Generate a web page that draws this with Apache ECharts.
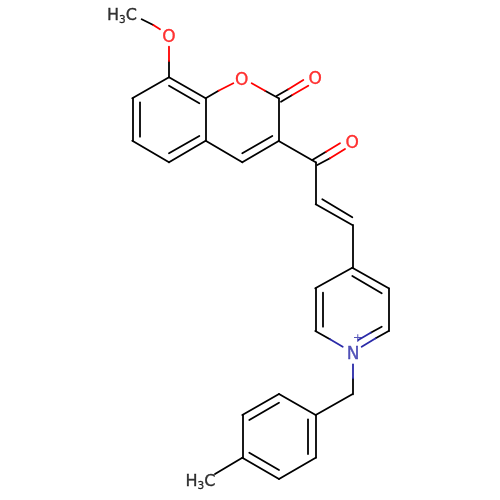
<!DOCTYPE html>
<html><head><meta charset="utf-8">
<style>html,body{margin:0;padding:0;background:#fff}#c{width:500px;height:500px}</style>
<script src="https://cdn.jsdelivr.net/npm/echarts@6/dist/echarts.min.js"></script>
</head><body><div id="c"></div>
<script>
// Bond segments: [x1, y1, x2, y2] in picture units
const blackBonds = [
  [141.7,19.3,153.3,25],[169,61,169,77.3],
  [169,77.3,205.7,98.3],[205.7,98.3,205.7,140.7],[205.7,140.7,169,162.3],[169,162.3,132.3,140.7],[132.3,140.7,132.3,98.3],[132.3,98.3,169,77.3],
  [169,85.7,199.3,103.3],[140,102.3,140,136.7],[169,153.3,199.3,136],
  [205.7,98.3,218.5,90.7],[265,90.7,278.7,98.3],[278.7,98.3,278.7,141],
  [278.7,141,242.3,162.3],[242.3,162.3,205.7,140.7],[242.3,153.3,272.3,136],
  [278.7,141,315.7,162.3],[312.3,160,326,151.7],[317.3,165,330,158.3],
  [276.5,96,288.3,89.3],[281,101.7,292.3,95],
  [315.7,162.3,315.7,204.3],[315.7,204.3,352.3,225],[322.3,199.3,352.3,217.3],[352.3,225,352.3,267.7],
  [352.3,267.7,388.7,288.3],[388.7,288.3,388.7,331],[388.7,331,375.7,338.3],[381.7,326.7,370.7,332.7],
  [352.3,267.7,315.3,288.3],[315.3,288.3,315.3,331],[315.3,331,330,339.3],
  [352.3,276,381.7,293.3],[322.7,292.7,322.7,326.7],
  [352.3,378.3,352.3,394.3],[352.3,394.3,315.7,415],
  [315.7,415,279,394],[279,394,242.3,415],[242.3,415,242.3,457.7],[242.3,457.7,279,479],[279,479,315.7,457.7],[315.7,457.7,315.7,415],
  [307.7,419.3,307.7,454],[249.3,420,279,402.7],[249.3,452.7,279,470],[242.3,457.7,215,474]
];
const redBonds = [
  [153.3,25,160,29.3],[169,46.7,169,61],
  [218.5,90.7,233.3,83.3],[251.7,83.3,265,90.7],
  [288.3,89.3,303.3,80],[292.3,95,308.3,85.7],
  [326,151.7,340,143.3],[330,158.3,345,149]
];
const blueBonds = [
  [375.7,338.3,361.7,346.7],[370.7,332.7,358.3,340],[330,339.3,342.7,346.7],[352.3,364.3,352.3,378.3]
];
// Atom labels: [x, y, text, colour key, font size]
const atomLabels = [
  [122,16,'{a|H}{s|3}{a|C}','ink',16],
  [169,37.5,'O','red',17],
  [241.7,80.2,'O','red',17],
  [315.3,79.5,'O','red',17],
  [352.3,144,'O','red',17],
  [353,354.5,'N','blue',17],
  [200.5,481.5,'{a|H}{s|3}{a|C}','ink',16]
];
const chargeLabels = [[357.7,338.5,'+']];

const colours = {ink:'#000000', red:'#ff0000', blue:'#2a2aa8'};
const toLines = a => a.map(b => ({coords:[[b[0],b[1]],[b[2],b[3]]]}));
const bondSeries = (a,c) => ({type:'lines',coordinateSystem:'cartesian2d',polyline:false,silent:true,
  data:toLines(a),lineStyle:{color:c,width:1.8,opacity:1,cap:'round',curveness:0}});
const chart = echarts.init(document.getElementById('c'),null,{renderer:'canvas'});
const textBase = (c,s) => ({fontFamily:'DejaVu Sans',fontSize:s,color:c,textBorderColor:c,textBorderWidth:0.35,textShadowBlur:0});
chart.setOption({
  animation:false,
  backgroundColor:'#fff',
  grid:{left:0,right:0,top:0,bottom:0},
  xAxis:{type:'value',min:0,max:500,show:false},
  yAxis:{type:'value',min:0,max:500,inverse:true,show:false},
  series:[
    bondSeries(blackBonds,colours.ink),
    bondSeries(redBonds,colours.red),
    bondSeries(blueBonds,colours.blue),
    {type:'scatter',symbolSize:0,silent:true,
     data:atomLabels.map(l=>({value:[l[0],l[1]],label:Object.assign({
       show:true,position:'inside',formatter:l[2],
       rich:{a:textBase(colours[l[3]],l[4]),
             s:Object.assign(textBase(colours[l[3]],10.5),{padding:[9,0,0,0]})}
     },textBase(colours[l[3]],l[4]))}))},
    {type:'scatter',symbolSize:0,silent:true,
     data:chargeLabels.map(l=>({value:[l[0],l[1]],label:Object.assign({
       show:true,position:'inside',formatter:l[2]},textBase(colours.blue,12),{textBorderWidth:0})}))}
  ]
});
</script></body></html>
